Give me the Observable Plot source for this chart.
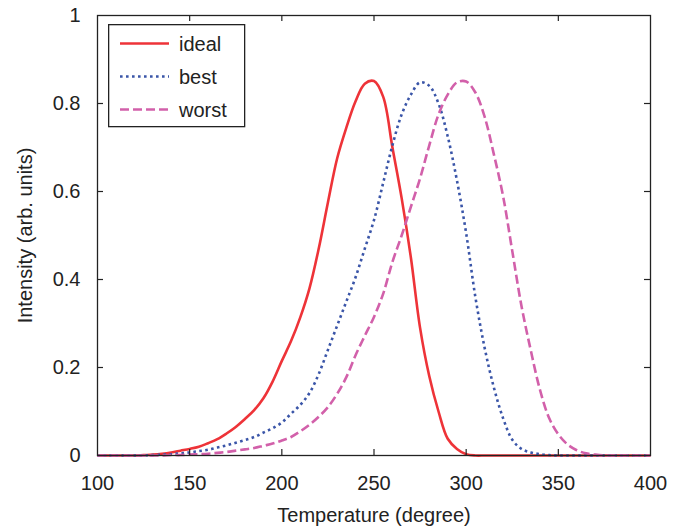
<!DOCTYPE html>
<html>
<head>
<meta charset="utf-8">
<script src="https://cdn.jsdelivr.net/npm/d3@7"></script>
<script src="https://cdn.jsdelivr.net/npm/@observablehq/plot@0.6"></script>
<style>
  body { margin: 0; background: #fff; }
  #wrap { position: relative; width: 683px; height: 526px; font-family: "Liberation Sans", Arial, sans-serif; }
  #legend { position: absolute; left: 108px; top: 24px; }
</style>
</head>
<body>
<div id="wrap"></div>
<script>
const temps = [100,105,110,115,120,125,130,135,140,145,150,155,160,165,170,175,180,185,190,195,200,205,210,215,220,225,230,235,240,245,250,255,260,265,270,275,280,285,290,295,300,305,310,315,320,325,330,335,340,345,350,355,360,365,370,375,380,385,390,395,400];
const ideal = [0,0,0,0,0,0.001,0.002,0.004,0.007,0.011,0.015,0.02,0.028,0.037,0.05,0.065,0.083,0.103,0.13,0.168,0.215,0.26,0.314,0.38,0.47,0.575,0.675,0.745,0.805,0.845,0.851,0.815,0.70,0.585,0.45,0.29,0.18,0.10,0.038,0.015,0.003,0,0,0,0,0,0,0,0,0,0,0,0,0,0,0,0,0,0,0,0];
const best = [0,0,0,0,0,0,0.001,0.002,0.003,0.005,0.007,0.01,0.013,0.018,0.023,0.029,0.035,0.042,0.052,0.062,0.075,0.095,0.115,0.142,0.185,0.24,0.295,0.35,0.405,0.47,0.535,0.62,0.705,0.775,0.82,0.848,0.84,0.80,0.725,0.625,0.505,0.36,0.245,0.155,0.085,0.036,0.015,0.007,0.003,0.001,0,0,0,0,0,0,0,0,0,0,0];
const worst = [0,0,0,0,0,0,0,0,0.001,0.001,0.002,0.003,0.004,0.006,0.008,0.011,0.014,0.017,0.022,0.027,0.034,0.042,0.055,0.07,0.088,0.11,0.14,0.178,0.228,0.272,0.315,0.368,0.44,0.50,0.565,0.63,0.705,0.775,0.82,0.848,0.85,0.825,0.77,0.685,0.59,0.465,0.34,0.24,0.15,0.085,0.048,0.025,0.012,0.005,0.002,0,0,0,0,0,0];
const seriesNames = ["ideal", "best", "worst"];
const seriesColors = ["#ee3338", "#3a55a8", "#d260aa"];
const seriesDash = [null, "2.6,3.4", "9,4"];
const xTicks = [100,150,200,250,300,350,400];
const yTicks = [0,0.2,0.4,0.6,0.8,1];

const values = [ideal, best, worst];
const table = seriesNames.map((name, i) => temps.map((t, j) => ({t, v: values[i][j], s: name})));

const W = 683, H = 526, mL = 97, mR = 33, mT = 15, mB = 71;
const pw = W - mL - mR, ph = H - mT - mB, tl = 6;

const chart = Plot.plot({
  width: W, height: H,
  marginLeft: mL, marginRight: mR, marginTop: mT, marginBottom: mB,
  style: {fontFamily: '"Liberation Sans", Arial, sans-serif', fontSize: "20px", color: "#222", background: "#fff"},
  x: {domain: [100, 400]},
  y: {domain: [0, 1]},
  marks: [
    Plot.axisX({anchor: "bottom", ticks: xTicks, tickSize: 0, tickPadding: 20, tickFormat: d => String(d),
      label: "Temperature (degree)", labelAnchor: "center", labelArrow: "none", labelOffset: 66, fontSize: 20}),
    Plot.axisY({anchor: "left", ticks: yTicks, tickSize: 0, tickPadding: 17, tickFormat: d => String(d),
      label: "Intensity (arb. units)", labelAnchor: "center", labelArrow: "none", labelOffset: 80, fontSize: 20}),
    ...table.map((d, i) => Plot.line(d, {x: "t", y: "v", stroke: seriesColors[i], strokeWidth: 2.6,
      curve: "catmull-rom", strokeDasharray: seriesDash[i], strokeLinejoin: "round", strokeLinecap: "butt"})),
    Plot.frame({stroke: "#222", strokeWidth: 1.3}),
    Plot.tickX(xTicks.slice(1, -1), {x: d => d, stroke: "#222", strokeWidth: 1.2, insetTop: ph - tl}),
    Plot.tickX(xTicks.slice(1, -1), {x: d => d, stroke: "#222", strokeWidth: 1.2, insetBottom: ph - tl}),
    Plot.tickY(yTicks.slice(1, -1), {y: d => d, stroke: "#222", strokeWidth: 1.2, insetRight: pw - tl}),
    Plot.tickY(yTicks.slice(1, -1), {y: d => d, stroke: "#222", strokeWidth: 1.2, insetLeft: pw - tl})
  ]
});
const wrap = document.getElementById("wrap");
wrap.appendChild(chart);

// legend
const ns = "http://www.w3.org/2000/svg";
const lg = document.createElementNS(ns, "svg");
lg.setAttribute("id", "legend");
lg.setAttribute("width", 138);
lg.setAttribute("height", 104);
const box = document.createElementNS(ns, "rect");
box.setAttribute("x", 0.65); box.setAttribute("y", 0.65);
box.setAttribute("width", 136); box.setAttribute("height", 102);
box.setAttribute("fill", "#fff"); box.setAttribute("stroke", "#222"); box.setAttribute("stroke-width", 1.3);
lg.appendChild(box);
seriesNames.forEach((name, i) => {
  const cy = 19.5 + i * 33;
  const ln = document.createElementNS(ns, "line");
  ln.setAttribute("x1", 12); ln.setAttribute("x2", 61);
  ln.setAttribute("y1", cy); ln.setAttribute("y2", cy);
  ln.setAttribute("stroke", seriesColors[i]); ln.setAttribute("stroke-width", 2.6);
  if (seriesDash[i]) ln.setAttribute("stroke-dasharray", seriesDash[i]);
  lg.appendChild(ln);
  const tx = document.createElementNS(ns, "text");
  tx.setAttribute("x", 71); tx.setAttribute("y", cy);
  tx.setAttribute("dy", "0.35em");
  tx.setAttribute("fill", "#222");
  tx.setAttribute("font-size", 20);
  tx.setAttribute("font-family", '"Liberation Sans", Arial, sans-serif');
  tx.textContent = name;
  lg.appendChild(tx);
});
wrap.appendChild(lg);
</script>
</body>
</html>
